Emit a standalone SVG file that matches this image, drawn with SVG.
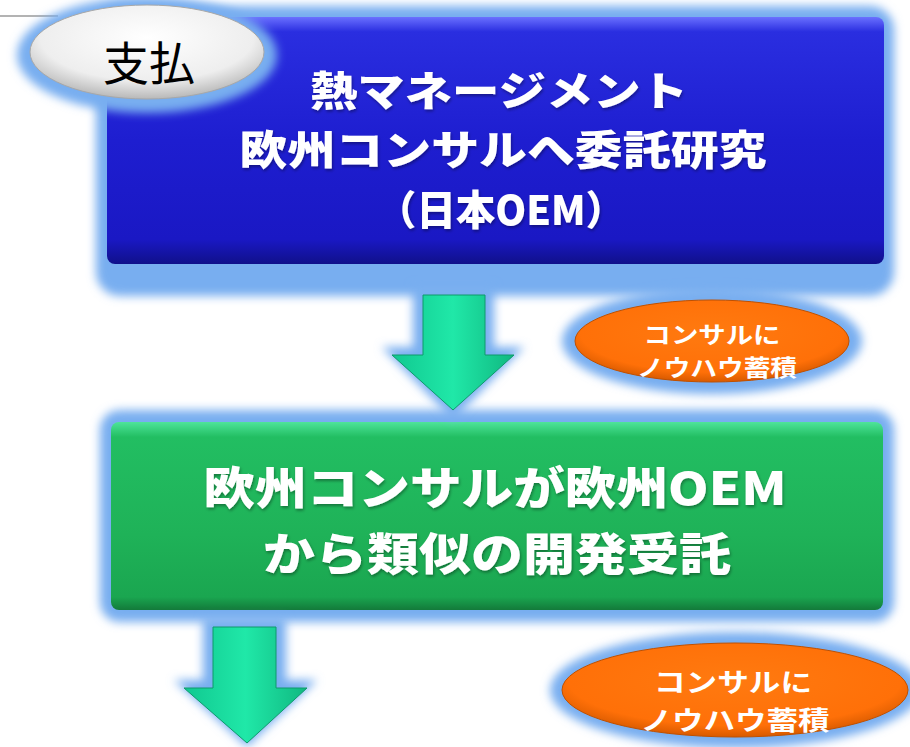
<svg xmlns="http://www.w3.org/2000/svg" width="910" height="747" viewBox="0 0 910 747">
<defs>
<style>
.boxtxt{font-family:"Noto Sans CJK JP","Noto Sans",sans-serif;font-weight:900;fill:#fff;text-anchor:middle}
.notetxt{font-family:"Noto Sans CJK JP","Noto Sans",sans-serif;font-weight:bold;fill:#fff;text-anchor:middle}
.glow{fill:#78aef0;filter:url(#blur)}
</style>
<filter id="blur" x="-20%" y="-20%" width="140%" height="140%"><feGaussianBlur stdDeviation="5"/></filter>
<filter id="tshadow" x="-10%" y="-20%" width="120%" height="140%">
<feGaussianBlur in="SourceAlpha" stdDeviation="1.5" result="b"/>
<feOffset dx="1" dy="2" in="b" result="o"/>
<feFlood flood-color="#000" flood-opacity="0.35"/>
<feComposite in2="o" operator="in" result="s"/>
<feMerge><feMergeNode in="s"/><feMergeNode in="SourceGraphic"/></feMerge>
</filter>
<linearGradient id="gBlue" x1="0" y1="0" x2="0" y2="1">
<stop offset="0" stop-color="#6a70ff"/>
<stop offset="0.06" stop-color="#2a2ee0"/>
<stop offset="0.5" stop-color="#1e1ed0"/>
<stop offset="0.9" stop-color="#1a18c4"/>
<stop offset="1" stop-color="#10108a"/>
</linearGradient>
<linearGradient id="gGreen" x1="0" y1="0" x2="0" y2="1">
<stop offset="0" stop-color="#4ee49a"/>
<stop offset="0.08" stop-color="#22be62"/>
<stop offset="0.6" stop-color="#1fb258"/>
<stop offset="0.93" stop-color="#1aa650"/>
<stop offset="1" stop-color="#137a3a"/>
</linearGradient>
<linearGradient id="gArrow" x1="0" y1="0" x2="1" y2="0">
<stop offset="0" stop-color="#10c890"/>
<stop offset="0.5" stop-color="#20e8a8"/>
<stop offset="1" stop-color="#10b880"/>
</linearGradient>
<radialGradient id="gWhite" cx="0.5" cy="0.35" r="0.65">
<stop offset="0" stop-color="#ffffff"/>
<stop offset="0.7" stop-color="#eeeeee"/>
<stop offset="1" stop-color="#b8b8b8"/>
</radialGradient>
<radialGradient id="gOrange" cx="0.5" cy="0.4" r="0.6">
<stop offset="0" stop-color="#ff7a10"/>
<stop offset="0.8" stop-color="#ff7008"/>
<stop offset="1" stop-color="#d85a00"/>
</radialGradient>
</defs>
<rect width="910" height="747" fill="#ffffff"/>
<line x1="0" y1="16" x2="58" y2="16" stroke="#9a9a9a" stroke-width="1.5"/>

<g id="node-research">
<rect class="glow" x="96" y="6" width="798" height="290" rx="24"/>
<rect x="107" y="17" width="777" height="247" rx="8" fill="url(#gBlue)"/>
<g filter="url(#tshadow)">
<text class="boxtxt" x="499" y="106" font-size="40.5" textLength="378" lengthAdjust="spacingAndGlyphs">熱マネージメント</text>
<text class="boxtxt" x="503" y="165" font-size="40.5" textLength="527" lengthAdjust="spacingAndGlyphs">欧州コンサルへ委託研究</text>
<text class="boxtxt" x="501" y="225" font-size="40.5" textLength="248" lengthAdjust="spacingAndGlyphs">（日本OEM）</text>
</g>
</g>

<g id="payment">
<ellipse class="glow" cx="147" cy="55" rx="130" ry="58"/>
<ellipse cx="147" cy="52" rx="117" ry="47" fill="url(#gWhite)" stroke="#a8a8a8" stroke-width="1"/>
<text x="149" y="80" font-family="Noto Sans CJK JP,Noto Sans,sans-serif" font-size="46" fill="#000" text-anchor="middle">支払</text>
</g>

<g id="node-contract">
<rect class="glow" x="100" y="410" width="794" height="212" rx="20"/>
<rect x="111" y="422" width="772" height="188" rx="8" fill="url(#gGreen)"/>
<g filter="url(#tshadow)">
<text class="boxtxt" x="495" y="505" font-size="45" textLength="583" lengthAdjust="spacingAndGlyphs">欧州コンサルが欧州OEM</text>
<text class="boxtxt" x="497" y="571" font-size="45" textLength="468" lengthAdjust="spacingAndGlyphs">から類似の開発受託</text>
</g>
</g>

<g id="note1">
<ellipse class="glow" cx="712" cy="341" rx="150" ry="53"/>
<ellipse cx="712" cy="341" rx="137" ry="41" fill="url(#gOrange)" stroke="#c05000" stroke-width="1"/>
<text class="notetxt" x="712" y="343" font-size="23" textLength="137" lengthAdjust="spacingAndGlyphs">コンサルに</text>
<text class="notetxt" x="717" y="376" font-size="23" textLength="160" lengthAdjust="spacingAndGlyphs">ノウハウ蓄積</text>
</g>

<g id="note2">
<ellipse class="glow" cx="735" cy="690" rx="185" ry="58"/>
<ellipse cx="735" cy="690" rx="173" ry="47" fill="url(#gOrange)" stroke="#c05000" stroke-width="1"/>
<text class="notetxt" x="733" y="692" font-size="26" textLength="158" lengthAdjust="spacingAndGlyphs">コンサルに</text>
<text class="notetxt" x="735" y="730" font-size="26" textLength="189" lengthAdjust="spacingAndGlyphs">ノウハウ蓄積</text>
</g>

<g id="connectors">
<polygon class="glow" points="413,286 494,286 494,347 524,347 453,420 382,347 413,347"/>
<polygon points="423,295 485,295 485,355 514,355 453,410 392,355 423,355" fill="url(#gArrow)" stroke="#0e9a6a" stroke-width="1"/>
<polygon class="glow" points="203,618 286,618 286,680 317,680 247,747 174,680 203,680"/>
<polygon points="213,627 276,627 276,688 307,688 247,743 184,688 213,688" fill="url(#gArrow)" stroke="#0e9a6a" stroke-width="1"/>
</g>
</svg>
